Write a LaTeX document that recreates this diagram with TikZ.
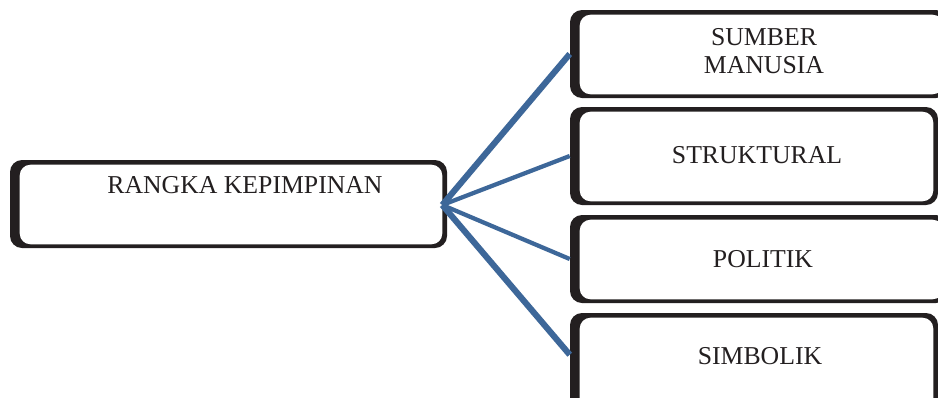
\documentclass[tikz,border=0pt]{standalone}
\usepackage{fontspec}
\setmainfont{Liberation Serif}
\usetikzlibrary{fit,calc}
\definecolor{ink}{RGB}{35,31,32}
\definecolor{linkblue}{RGB}{61,103,153}
\tikzset{
  frame/.style={fill=ink, draw=none, rounded corners=9pt, inner sep=0pt},
  hole/.style={fill=white, rounded corners=8pt},
  lbl/.style={font=\fontsize{19.3}{20.5}\selectfont, text=ink, align=center, inner sep=0pt},
  thicklink/.style={draw=linkblue, line width=4.6pt},
  thinlink/.style={draw=linkblue, line width=3.2pt},
}
\begin{document}
\begin{tikzpicture}[x=0.75pt, y=-0.75pt]
\clip (0,0) rectangle (938,397);
\fill[white] (0,0) rectangle (938,397);
% boxes
\node[frame, fit={(10,160) (447,248)}] (main) {};
\node[frame, fit={(570,10) (948,98)}] (b1) {};
\node[frame, fit={(570,107) (938,205)}] (b2) {};
\node[frame, fit={(570,215) (948,303)}] (b3) {};
\node[frame, fit={(570,313) (938,415)}] (b4) {};
\foreach \b in {main,b1,b2,b3,b4}{
  \fill[hole] ($(\b.north west)+(10,5)$) rectangle ($(\b.south east)+(-5,-4)$);
}
% labels
\node[lbl] (tmain) at (245,185) {RANGKA KEPIMPINAN};
\node[lbl] (t1) at (764,51) {SUMBER\\MANUSIA};
\node[lbl] (t2) at (757,155) {STRUKTURAL};
\node[lbl] (t3) at (763,259) {POLITIK};
\node[lbl] (t4) at (760,356) {SIMBOLIK};
% connectors
\coordinate (hub) at ($(main.east)+(-5,1)$);
\coordinate (b4in) at ($(b4.north west)+(0,42)$);
\draw[thicklink] (hub) -- (b1.west);
\draw[thinlink] (hub) -- (b2.west);
\draw[thinlink] (hub) -- (b3.west);
\draw[thicklink] (hub) -- (b4in);
\end{tikzpicture}
\end{document}
